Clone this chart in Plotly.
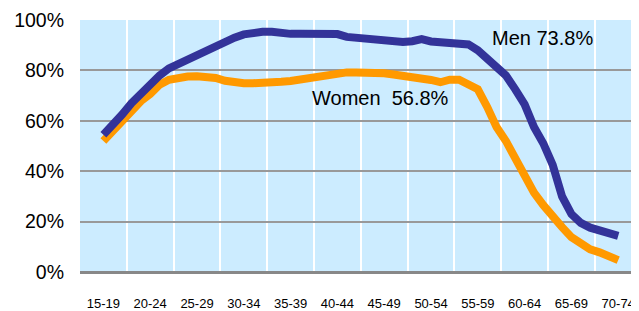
import plotly.graph_objects as go

# single-year ages (plotted at mid-year position)
ages = list(range(17, 73))
men = [54.5, 58.0, 62.5, 67.0, 71.0, 74.5, 78.0, 80.8, 82.5, 85.0,
       86.5, 88.3, 89.3, 91.7, 93.0, 94.3, 95.2, 95.3, 95.3, 94.6,
       94.5, 94.5, 94.5, 94.5, 94.5, 94.4, 93.3, 93.0, 92.3, 91.8,
       91.3, 91.3, 91.3, 91.6, 92.4, 91.5, 91.3, 91.3, 91.1, 90.3,
       88.0, 85.0, 81.5, 78.0, 72.5, 66.5, 57.5, 51.0, 42.5, 30.0,
       23.0, 19.5, 17.6, 16.5, 15.5, 14.3]
women = [52.0, 56.0, 60.5, 64.5, 67.8, 70.6, 74.3, 76.3, 77.2, 77.6,
         77.7, 77.6, 77.0, 75.9, 75.2, 74.9, 74.9, 74.9, 75.1, 75.5,
         75.8, 76.5, 77.2, 77.8, 78.5, 79.2, 79.2, 79.2, 79.2, 79.2,
         78.9, 78.4, 78.0, 77.6, 77.0, 76.2, 75.3, 76.3, 76.3, 74.5,
         72.5, 65.5, 57.5, 52.0, 45.0, 37.5, 31.5, 26.5, 21.8, 17.8,
         13.8, 11.3, 9.0, 7.8, 6.5, 4.7]
group_labels = ["15-19", "20-24", "25-29", "30-34", "35-39", "40-44",
                "45-49", "50-54", "55-59", "60-64", "65-69", "70-74"]
group_starts = [15, 20, 25, 30, 35, 40, 45, 50, 55, 60, 65, 70]
men_label = "Men 73.8%"
women_label = "Women  56.8%"

xpos = [a + 0.5 for a in ages]
FONT = "Liberation Sans, Arial, sans-serif"

fig = go.Figure()
fig.add_trace(go.Scatter(x=xpos, y=women, mode="lines", name="Women",
                         line=dict(color="#FF9900", width=8)))
fig.add_trace(go.Scatter(x=xpos, y=men, mode="lines", name="Men",
                         line=dict(color="#333399", width=8)))

fig.add_annotation(text=men_label, xref="paper", yref="paper",
                   x=0.733, y=0.927, xanchor="left", yanchor="middle",
                   showarrow=False, font=dict(family=FONT, size=20, color="#000"))
fig.add_annotation(text=women_label.replace(" ", "&nbsp;"), xref="paper", yref="paper",
                   x=0.4115, y=0.69, xanchor="left", yanchor="middle",
                   showarrow=False, font=dict(family=FONT, size=20, color="#000"))

# page body adds an 8px offset, so the figure is sized to fit the window
fig.update_layout(
    width=631, height=303,
    margin=dict(l=72, r=0, t=12, b=36),
    paper_bgcolor="white",
    plot_bgcolor="#CCECFF",
    showlegend=False,
    font=dict(family=FONT, color="#000"),
)
fig.update_xaxes(
    type="linear", range=[15, 74.72],
    tickmode="array",
    tickvals=[s + 2.5 for s in group_starts],
    ticktext=group_labels,
    tickfont=dict(size=13, family=FONT),
    ticks="", showgrid=False, zeroline=False, showline=False,
    ticklabelstandoff=22,
    minor=dict(tickvals=group_starts[1:], showgrid=True,
               gridcolor="white", gridwidth=2, ticks=""),
)
fig.update_yaxes(
    range=[0, 100], dtick=20, ticksuffix="%",
    tickfont=dict(size=19.5, family=FONT),
    ticks="", showgrid=True, gridcolor="#999999", gridwidth=2,
    zeroline=True, zerolinecolor="#888888", zerolinewidth=3,
    showline=False, ticklabelstandoff=15,
)

fig.write_html("out.html")
